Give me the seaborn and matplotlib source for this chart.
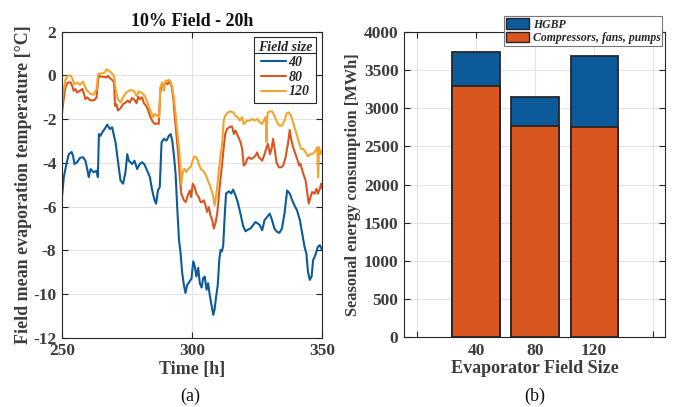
import numpy as np
import pandas as pd
import matplotlib
matplotlib.use("Agg")
import matplotlib.pyplot as plt
import seaborn as sns
from matplotlib.patches import Patch
from matplotlib.lines import Line2D
from matplotlib.transforms import IdentityTransform

# ---------------- data: panel (a) ----------------
t40 = [249.7, 250.7, 251.7, 252.6, 253.7, 254.3, 254.8, 255.8, 256.9, 258.1, 259.0, 259.7, 260.3, 261.0,
       262.2, 263.3, 263.8, 264.2, 264.8, 265.5, 266.4, 267.4, 268.4, 269.3, 270.0, 270.6, 271.5, 272.5,
       273.5, 274.4, 275.1, 275.7, 277.0, 277.9, 278.9, 279.9, 280.8, 281.7, 282.8, 283.8, 284.7, 285.6,
       286.2, 286.9, 287.6, 288.3, 289.2, 290.2, 291.1, 291.8, 292.4, 293.0, 293.7, 294.3, 295.0, 295.6,
       296.2, 296.9, 297.5, 298.1, 299.2, 299.8, 300.5, 301.1, 301.7, 302.4, 303.0, 303.7, 304.3, 304.9,
       305.6, 306.2, 306.9, 307.5, 308.2, 308.7, 309.3, 309.9, 310.5, 311.0, 311.5, 312.0, 312.5, 313.1,
       314.2, 315.1, 315.8, 316.7, 317.6, 318.6, 319.7, 320.6, 321.5, 322.5, 323.5, 324.4, 325.3, 326.1,
       327.0, 327.9, 328.9, 329.9, 330.8, 331.7, 332.7, 333.6, 334.6, 335.6, 336.6, 337.6, 338.5, 339.4,
       340.4, 341.5, 342.4, 343.3, 344.0, 344.6, 345.3, 346.0, 346.6, 347.5, 348.4, 349.2, 350.0]
temp40 = [-5.94, -4.65, -4.05, -3.6, -3.5, -3.7, -4.05, -3.97, -3.77, -3.74, -3.9, -4.28, -4.65, -4.28,
          -4.43, -4.36, -4.65, -2.68, -2.76, -2.6, -2.45, -2.25, -2.45, -2.37, -2.76, -3.06, -3.9, -4.8,
          -4.95, -4.43, -3.6, -3.9, -4.05, -3.9, -4.28, -4.05, -3.97, -4.07, -4.36, -4.65, -5.26, -5.71,
          -5.86, -5.26, -5.1, -3.06, -2.9, -2.98, -2.76, -2.68, -2.98, -3.6, -4.5, -6.0, -7.53, -8.1,
          -9.0, -9.6, -9.95, -9.6, -9.4, -9.3, -8.5, -8.75, -9.2, -8.8, -9.5, -9.7, -9.27, -9.2,
          -9.8, -9.5, -10.1, -10.5, -10.95, -10.7, -10.1, -9.6, -8.44, -7.98, -8.05, -7.8, -6.6, -5.4,
          -5.3, -5.4, -5.22, -5.48, -5.8, -6.3, -6.9, -7.13, -7.05, -7.0, -6.85, -6.7, -6.77, -6.85,
          -7.08, -6.62, -6.47, -6.32, -6.62, -7.0, -7.15, -7.2, -7.0, -6.3, -5.26, -5.4, -5.7, -5.94,
          -6.17, -6.62, -7.23, -7.84, -8.14, -8.97, -9.35, -9.2, -8.44, -8.2, -7.84, -7.76, -7.98]

t80 = [249.7, 250.4, 251.3, 252.2, 253.3, 253.9, 254.5, 255.2, 255.8, 256.9, 257.8, 258.4, 259.0, 259.7,
       260.7, 261.6, 262.5, 263.3, 263.8, 264.2, 265.1, 266.1, 267.2, 267.7, 268.4, 269.3, 270.0, 270.4,
       270.9, 271.5, 272.5, 273.5, 274.4, 275.3, 276.1, 276.9, 277.6, 278.7, 279.3, 279.9, 280.8, 281.5,
       282.4, 283.0, 283.8, 284.7, 285.6, 286.3, 287.2, 287.8, 288.5, 289.2, 289.8, 290.7, 291.5, 292.1,
       292.8, 293.4, 294.0, 294.7, 295.3, 295.9, 296.9, 297.6, 298.4, 299.2, 299.7, 300.3, 301.0, 301.7,
       302.6, 303.3, 303.9, 304.6, 305.2, 305.8, 306.5, 307.1, 307.8, 308.4, 309.0, 309.7, 310.3, 310.9,
       311.6, 312.2, 312.8, 313.5, 314.5, 315.4, 316.1, 316.7, 317.6, 318.7, 319.3, 319.9, 320.6, 321.2,
       321.9, 322.8, 323.5, 324.4, 325.1, 325.7, 326.4, 327.0, 327.9, 328.7, 329.2, 330.0, 330.6, 331.2,
       331.7, 332.5, 333.4, 334.3, 335.1, 336.0, 336.9, 337.6, 338.1, 338.9, 339.8, 340.7, 341.2, 341.7,
       342.8, 343.7, 344.3, 344.9, 345.6, 346.2, 347.1, 347.9, 348.4, 349.2, 349.7, 350.2]
temp80 = [-2.0, -1.31, -0.55, -0.32, -0.32, -0.47, -0.7, -0.62, -0.78, -0.7, -0.62, -0.82, -1.08, -1.0,
          -1.12, -1.15, -1.12, -1.0, -0.32, -0.01, -0.06, -0.06, -0.09, -0.01, -0.12, -0.2, -0.32, -1.39,
          -1.31, -1.6, -1.5, -1.31, -1.24, -1.15, -1.24, -1.03, -1.08, -1.27, -0.97, -1.08, -1.0, -1.27,
          -1.39, -1.54, -1.84, -2.07, -2.22, -2.19, -2.22, -0.78, -0.4, -0.47, -0.32, -0.4, -0.24, -0.47,
          -1.0, -1.91, -2.67, -3.58, -4.65, -5.41, -5.71, -5.79, -5.48, -5.26, -5.56, -4.95, -5.1, -5.41,
          -5.56, -5.79, -5.79, -5.71, -5.94, -6.24, -6.02, -6.4, -6.62, -7.0, -6.77, -6.32, -5.56, -4.8,
          -4.04, -3.28, -2.67, -2.44, -2.36, -2.33, -2.67, -2.52, -2.75, -3.06, -3.36, -4.12, -4.04, -3.82,
          -3.74, -3.82, -3.77, -3.67, -3.52, -3.74, -3.82, -3.9, -3.6, -3.28, -3.13, -3.6, -3.36, -2.9,
          -3.28, -3.97, -4.2, -4.2, -4.12, -3.74, -3.13, -2.49, -2.9, -3.28, -3.6, -3.9, -4.12, -4.04,
          -4.5, -4.8, -5.33, -5.86, -5.56, -5.33, -5.41, -5.18, -5.41, -5.18, -4.95, -5.18]

t120 = [249.7, 250.4, 251.3, 252.2, 253.3, 253.9, 254.8, 255.8, 256.9, 258.1, 259.0, 259.7, 261.0, 262.2,
        263.3, 263.9, 264.6, 265.5, 266.4, 267.2, 268.0, 268.9, 270.0, 270.6, 271.5, 272.5, 273.5, 274.4,
        275.7, 276.6, 277.6, 278.7, 279.6, 280.5, 281.5, 282.4, 283.4, 284.3, 285.1, 285.7, 286.6, 287.4,
        287.8, 288.5, 289.2, 289.8, 290.5, 291.1, 291.8, 292.4, 293.0, 293.7, 294.3, 295.0, 295.6, 295.9,
        296.5, 297.1, 297.9, 298.5, 299.4, 300.1, 300.7, 301.3, 302.0, 302.6, 303.3, 304.3, 305.2, 306.1,
        307.1, 308.1, 308.7, 309.2, 309.7, 310.3, 310.9, 311.6, 312.2, 312.8, 313.8, 314.8, 315.8, 316.7,
        317.6, 318.4, 319.3, 319.9, 320.6, 321.2, 322.2, 323.1, 324.0, 325.1, 326.1, 327.0, 327.6, 328.3,
        328.7, 328.9, 329.2, 330.0, 330.8, 331.7, 332.7, 333.6, 334.6, 335.6, 336.4, 337.2, 338.1, 339.2,
        340.2, 341.1, 342.0, 342.8, 343.7, 344.6, 345.6, 346.6, 347.5, 348.2, 348.5, 348.9, 349.4, 350.0]
temp120 = [-1.64, -0.88, -0.2, -0.01, 0.0, -0.12, -0.4, -0.32, -0.43, -0.28, -0.55, -0.7, -0.85, -0.88,
           -0.62, 0.06, 0.09, 0.09, 0.14, 0.29, 0.21, 0.14, -0.01, -0.62, -1.08, -1.24, -1.0, -0.82,
           -0.7, -0.67, -0.7, -0.94, -0.73, -0.78, -0.88, -1.08, -1.43, -1.69, -1.91, -1.76, -1.84, -1.91,
           -0.55, -0.32, -0.7, -0.24, -0.24, -0.2, -0.32, -0.55, -1.0, -1.76, -2.52, -3.28, -4.2, -4.95,
           -4.42, -4.27, -4.42, -4.27, -4.2, -3.97, -3.74, -3.7, -3.82, -4.04, -4.27, -4.35, -4.53, -4.8,
           -5.1, -5.48, -5.94, -5.56, -5.1, -4.35, -3.74, -3.13, -2.06, -1.84, -1.69, -1.64, -1.69, -1.84,
           -1.91, -2.06, -1.91, -2.22, -2.14, -2.06, -2.06, -1.99, -2.06, -1.99, -2.14, -2.22, -2.06, -1.91,
           -3.05, -1.91, -1.69, -1.64, -1.64, -1.84, -2.14, -2.29, -2.29, -2.06, -1.73, -1.69, -1.84, -2.29,
           -2.67, -3.05, -3.36, -3.36, -3.51, -3.7, -3.6, -3.57, -3.44, -3.28, -4.65, -3.28, -3.6, -3.44]

field_sizes = ["40", "80", "120"]

# ---------------- data: panel (b) ----------------
bar_categories = ["40", "80", "120"]
compressors_fans_pumps = [3290, 2770, 2750]
hgbp = [440, 375, 935]

# ---------------- style ----------------
sns.set_theme(style="white")
plt.rcParams['font.family'] = ['Liberation Serif', 'DejaVu Serif']
plt.rcParams['axes.unicode_minus'] = False
AX_COL = "#262626"
TXT_COL = "#3c3c3c"
C_BLUE = "#0C5A9A"
C_ORANGE = "#D95620"
C_YELLOW = "#F2A52B"

fig = plt.figure(figsize=(6.76, 4.07), dpi=100)
ax1 = fig.add_axes([0.0917, 0.170, 0.3846, 0.752])
ax2 = fig.add_axes([0.5976, 0.171, 0.3861, 0.751])

# ---- panel (a) ----
frames = []
for name, t, v in [("40", t40, temp40), ("80", t80, temp80), ("120", t120, temp120)]:
    frames.append(pd.DataFrame({"time": t, "temp": v, "Field size": name}))
df = pd.concat(frames, ignore_index=True)
pal = {"40": C_BLUE, "80": C_ORANGE, "120": C_YELLOW}
sns.lineplot(data=df, x="time", y="temp", hue="Field size", hue_order=field_sizes,
             palette=pal, linewidth=1.5, ax=ax1, legend=False, estimator=None, sort=False)
ax1.set_xlim(250, 350)
ax1.set_ylim(-12, 2)
ax1.set_xticks([250, 300, 350])
ax1.set_yticks(np.arange(-12, 3, 2))
ax1.set_title("10% Field - 20h", fontsize=13, fontweight="bold", color="#111111", pad=4)
ax1.set_xlabel("Time [h]", fontsize=13, fontweight="bold", color=TXT_COL, labelpad=1)
ax1.set_ylabel("Field mean evaporation temperature [°C]", fontsize=13, fontweight="bold",
               color=TXT_COL, labelpad=1)
handles = [Line2D([0], [0], color=pal[k], lw=1.5) for k in field_sizes]
leg = ax1.legend(handles, field_sizes, title="Field size", loc="upper right",
                 fancybox=False, framealpha=1, edgecolor=AX_COL, borderaxespad=0.4,
                 handlelength=1.8, handletextpad=0.2, labelspacing=0.12,
                 borderpad=0.3, prop={"weight": "bold", "style": "italic", "size": 10})
leg.get_title().set_fontweight("bold")
leg.get_title().set_fontstyle("italic")
leg.get_title().set_fontsize(10)
leg.get_frame().set_linewidth(0.8)

# ---- panel (b) ----
bdf = pd.DataFrame({"size": bar_categories,
                    "total": np.array(compressors_fans_pumps) + np.array(hgbp),
                    "base": compressors_fans_pumps})
sns.barplot(data=bdf, x="size", y="total", order=bar_categories, color=C_BLUE,
            saturation=1, width=0.8, edgecolor=AX_COL, linewidth=1.3, ax=ax2)
sns.barplot(data=bdf, x="size", y="base", order=bar_categories, color=C_ORANGE,
            saturation=1, width=0.8, edgecolor=AX_COL, linewidth=1.3, ax=ax2)
ax2.set_xlim(-1.22, 3.2)
ax2.set_ylim(0, 4000)
ax2.set_xticks([-1, 0, 1, 2, 3])
ax2.set_xticklabels([""] + bar_categories + [""])
ax2.set_yticks(np.arange(0, 4001, 500))
ax2.set_xlabel("Evaporator Field Size", fontsize=13, fontweight="bold", color=TXT_COL, labelpad=1)
ax2.set_ylabel("Seasonal energy consumption [MWh]", fontsize=11.8, fontweight="bold",
               color=TXT_COL, labelpad=2)
bh = [Patch(facecolor=C_BLUE, edgecolor=AX_COL, linewidth=1.0),
      Patch(facecolor=C_ORANGE, edgecolor=AX_COL, linewidth=1.0)]
leg2 = ax2.legend(bh, ["HGBP", "Compressors, fans, pumps"], loc="upper right",
                  bbox_to_anchor=(0.99, 1.05), fancybox=False, framealpha=1, edgecolor="#777777",
                  handlelength=2.0, handleheight=1.0, handletextpad=0.3, labelspacing=0.1,
                  borderpad=0.15, borderaxespad=0.0,
                  prop={"weight": "bold", "style": "italic", "size": 8.5})
leg2.get_frame().set_linewidth(0.8)

for ax in (ax1, ax2):
    ax.set_axisbelow(True)
    ax.grid(True, color="#e3e3e3", linewidth=0.8)
    for s in ax.spines.values():
        s.set_visible(True)
        s.set_color(AX_COL)
        s.set_linewidth(0.8)
    ax.tick_params(direction="in", length=4, width=0.8, color=AX_COL, top=True, right=True,
                   bottom=True, left=True, labelsize=12.5, labelcolor=TXT_COL, pad=4)
    for lab in ax.get_xticklabels() + ax.get_yticklabels():
        lab.set_fontweight("bold")

fig.text(0.281, 0.027, "(a)", ha="center", va="center", fontsize=13, color="#111111")
fig.text(0.791, 0.025, "(b)", ha="center", va="center", fontsize=13, color="#111111")

# separator line under the legend title (MATLAB-style)
fig.canvas.draw()
lbb = leg.get_window_extent()
tbb = leg.get_title().get_window_extent()
first = leg.get_texts()[0].get_window_extent()
ysep = tbb.y0 + 1.0
fig.add_artist(Line2D([lbb.x0, lbb.x1], [ysep, ysep], transform=IdentityTransform(),
                      color=AX_COL, linewidth=0.8))

fig.savefig("out.png", dpi=100)
